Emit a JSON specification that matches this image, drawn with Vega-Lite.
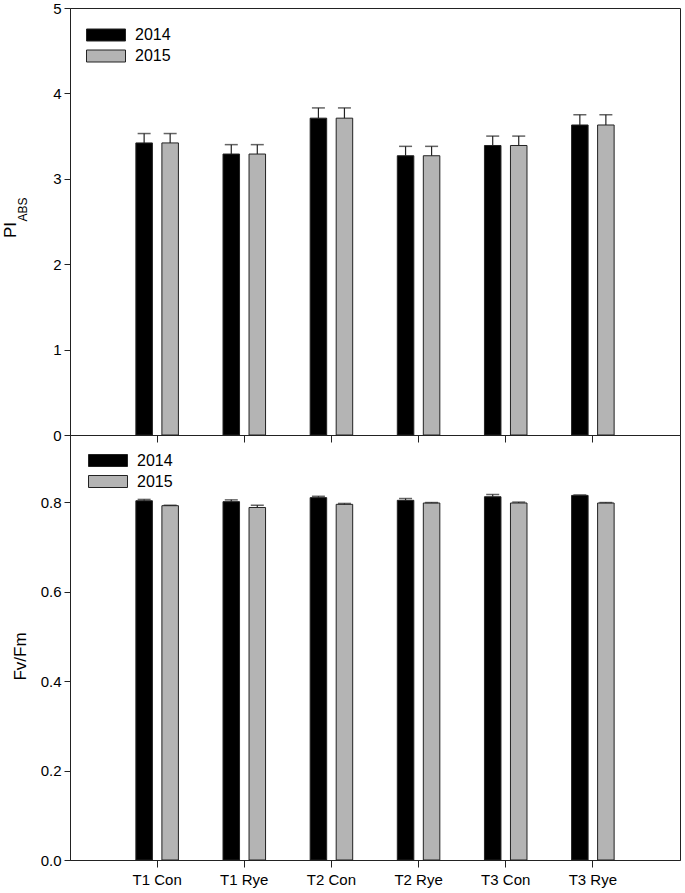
{
  "$schema": "https://vega.github.io/schema/vega-lite/v6.json",
  "padding": {"left": 0, "top": 0, "right": 0, "bottom": 0},
  "background": "white",
  "config": {
    "font": "Liberation Sans",
    "view": {"stroke": "#222", "strokeWidth": 1},
    "axis": {"domainColor": "#222", "tickColor": "#222", "labelColor": "black", "titleColor": "black", "labelFontSize": 15, "titleFontSize": 17, "titleFontWeight": "normal", "grid": false, "tickSize": 6},
    "legend": {"title": null, "orient": "none", "symbolType": "M-1.95,-0.6H1.95V0.6H-1.95Z", "symbolSize": 400, "symbolStrokeColor": "#222", "symbolStrokeWidth": 1, "labelFontSize": 16, "labelOffset": 18.5, "padding": 0, "rowPadding": 2, "labelColor": "black", "zindex": 2}
  },
  "datasets": {
    "pi": [
      {"trt": "T1 Con", "year": "2014", "v": 3.42, "hi": 3.53},
      {"trt": "T1 Con", "year": "2015", "v": 3.42, "hi": 3.53},
      {"trt": "T1 Rye", "year": "2014", "v": 3.29, "hi": 3.40},
      {"trt": "T1 Rye", "year": "2015", "v": 3.29, "hi": 3.40},
      {"trt": "T2 Con", "year": "2014", "v": 3.71, "hi": 3.83},
      {"trt": "T2 Con", "year": "2015", "v": 3.71, "hi": 3.83},
      {"trt": "T2 Rye", "year": "2014", "v": 3.27, "hi": 3.38},
      {"trt": "T2 Rye", "year": "2015", "v": 3.27, "hi": 3.38},
      {"trt": "T3 Con", "year": "2014", "v": 3.39, "hi": 3.50},
      {"trt": "T3 Con", "year": "2015", "v": 3.39, "hi": 3.50},
      {"trt": "T3 Rye", "year": "2014", "v": 3.63, "hi": 3.75},
      {"trt": "T3 Rye", "year": "2015", "v": 3.63, "hi": 3.75}
    ],
    "fv": [
      {"trt": "T1 Con", "year": "2014", "v": 0.803, "hi": 0.806},
      {"trt": "T1 Con", "year": "2015", "v": 0.792, "hi": 0.793},
      {"trt": "T1 Rye", "year": "2014", "v": 0.801, "hi": 0.805},
      {"trt": "T1 Rye", "year": "2015", "v": 0.788, "hi": 0.793},
      {"trt": "T2 Con", "year": "2014", "v": 0.810, "hi": 0.813},
      {"trt": "T2 Con", "year": "2015", "v": 0.795, "hi": 0.797},
      {"trt": "T2 Rye", "year": "2014", "v": 0.804, "hi": 0.808},
      {"trt": "T2 Rye", "year": "2015", "v": 0.798, "hi": 0.799},
      {"trt": "T3 Con", "year": "2014", "v": 0.812, "hi": 0.817},
      {"trt": "T3 Con", "year": "2015", "v": 0.798, "hi": 0.800},
      {"trt": "T3 Rye", "year": "2014", "v": 0.815, "hi": 0.816},
      {"trt": "T3 Rye", "year": "2015", "v": 0.798, "hi": 0.799}
    ]
  },
  "bounds": "flush",
  "spacing": 0,
  "resolve": {"scale": {"color": "independent"}, "legend": {"color": "independent"}},
  "vconcat": [
    {
      "width": 610,
      "height": 427,
      "data": {"name": "pi"},
      "encoding": {
        "x": {"field": "trt", "type": "nominal", "sort": null, "scale": {"paddingInner": 0, "paddingOuter": 0.5}, "axis": {"labels": false, "title": null, "tickSize": 7}},
        "xOffset": {"field": "year", "type": "nominal", "scale": {"paddingInner": 0.365, "paddingOuter": 0.857}}
      },
      "layer": [
        {
          "mark": {"type": "bar", "stroke": "#222", "strokeWidth": 1},
          "encoding": {
            "y": {"field": "v", "type": "quantitative", "scale": {"domain": [0, 5], "nice": false}, "axis": {"values": [0, 1, 2, 3, 4, 5], "title": "PI", "titleAngle": -90, "titleAlign": "center", "titleBaseline": "alphabetic", "titleX": -55, "titleY": 221.5, "labelPadding": 3}},
            "color": {"field": "year", "type": "nominal", "scale": {"domain": ["2014", "2015"], "range": ["black", "#b4b4b4"]}, "legend": {"legendX": 25.5, "legendY": 16.5}}
          }
        },
        {
          "mark": {"type": "rule", "color": "#222", "strokeWidth": 1.2},
          "encoding": {
            "y": {"field": "v", "type": "quantitative", "scale": {"domain": [0, 5], "nice": false}, "axis": {"orient": "left", "title": "ABS", "titleFontSize": 12, "labels": false, "ticks": false, "domain": false, "titleAngle": -90, "titleAlign": "center", "titleBaseline": "alphabetic", "titleX": -44, "titleY": 201}},
            "y2": {"field": "hi"}
          }
        },
        {
          "mark": {"type": "tick", "orient": "horizontal", "size": 13, "thickness": 1.5, "color": "#222"},
          "encoding": {
            "y": {"field": "hi", "type": "quantitative", "scale": {"domain": [0, 5], "nice": false}, "axis": null}
          }
        }
      ],
      "resolve": {"scale": {"y": "independent"}}
    },
    {
      "width": 610,
      "height": 425,
      "data": {"name": "fv"},
      "encoding": {
        "x": {"field": "trt", "type": "nominal", "sort": null, "scale": {"paddingInner": 0, "paddingOuter": 0.5}, "axis": {"title": null, "labelAngle": 0, "tickSize": 7, "labelPadding": 5}},
        "xOffset": {"field": "year", "type": "nominal", "scale": {"paddingInner": 0.365, "paddingOuter": 0.857}}
      },
      "layer": [
        {
          "mark": {"type": "bar", "stroke": "#222", "strokeWidth": 1},
          "encoding": {
            "y": {"field": "v", "type": "quantitative", "scale": {"domain": [0, 0.95], "nice": false}, "axis": {"values": [0, 0.2, 0.4, 0.6, 0.8], "format": ".1f", "title": "Fv/Fm", "titleAngle": -90, "titleAlign": "center", "titleBaseline": "alphabetic", "titleX": -45, "titleY": 221, "labelPadding": 3}},
            "color": {"field": "year", "type": "nominal", "scale": {"domain": ["2014", "2015"], "range": ["black", "#b4b4b4"]}, "legend": {"legendX": 27.5, "legendY": 15}}
          }
        },
        {
          "mark": {"type": "rule", "color": "#222", "strokeWidth": 1.2},
          "encoding": {
            "y": {"field": "v", "type": "quantitative", "title": "Fv/Fm"},
            "y2": {"field": "hi"}
          }
        },
        {
          "mark": {"type": "tick", "orient": "horizontal", "size": 13, "thickness": 1.5, "color": "#222"},
          "encoding": {
            "y": {"field": "hi", "type": "quantitative", "title": "Fv/Fm"}
          }
        }
      ]
    }
  ]
}
